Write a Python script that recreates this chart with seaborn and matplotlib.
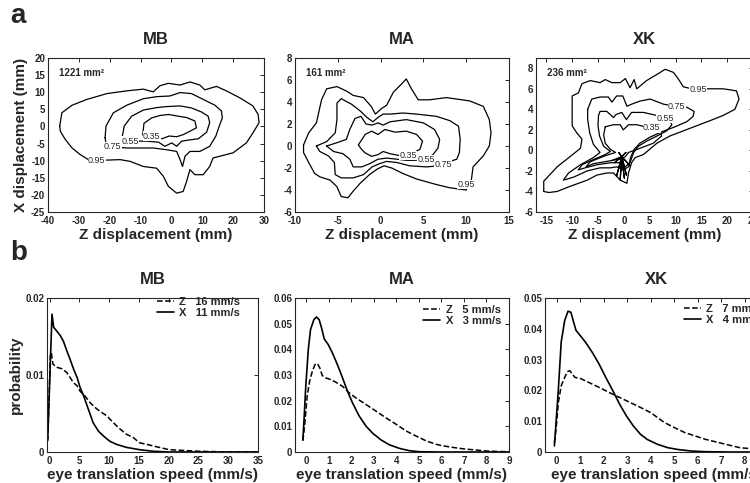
import numpy as np
import matplotlib
matplotlib.use("Agg")
import matplotlib.pyplot as plt
import seaborn as sns

# ---- panel a: iso-probability contours, (Z, X) displacement in mm ----
mb_095 = [(-36.2, 0.1), (-35.5, 4.0), (-32.2, 6.2), (-27.4, 7.9), (-20.9, 9.6), (-14.5, 10.4),
          (-9.1, 10.9), (-5.9, 10.1), (-3.7, 11.9), (-1.0, 12.6), (2.8, 12.1), (6.0, 13.0),
          (9.2, 12.1), (10.8, 10.7), (14.6, 11.7), (17.8, 10.4), (22.1, 8.4), (26.4, 6.0),
          (28.1, 3.5), (28.4, 1.1), (26.4, -1.9), (24.3, -4.8), (20.0, -7.7), (15.7, -8.7),
          (13.5, -9.2), (12.4, -11.7), (10.3, -14.1), (7.6, -14.1), (6.0, -12.6), (4.9, -16.1),
          (3.8, -19.0), (1.7, -19.5), (-1.0, -17.5), (-2.6, -14.6), (-4.8, -12.2), (-9.1, -11.7),
          (-13.4, -10.2), (-16.6, -9.7), (-23.1, -9.9), (-26.9, -9.7), (-29.6, -8.2),
          (-32.2, -6.3), (-34.4, -3.8), (-36.0, -1.4)]
mb_075 = [(-21.5, -3.3), (-21.2, 0.1), (-18.8, 4.0), (-14.5, 6.2), (-9.1, 8.1), (-4.8, 8.7),
          (-0.5, 8.9), (2.8, 9.9), (6.5, 9.6), (10.3, 7.9), (14.1, 6.2), (16.2, 4.5), (16.5, 2.5),
          (15.5, 0.1), (14.4, -2.8), (12.4, -5.8), (9.2, -7.3), (6.0, -7.3), (4.4, -8.7),
          (3.6, -11.7), (2.8, -9.7), (1.7, -7.3), (-1.6, -6.8), (-5.9, -6.3), (-10.2, -6.3),
          (-14.5, -6.3), (-18.8, -6.0), (-21.2, -5.0)]
mb_055 = [(-16.1, -3.8), (-15.3, 0.1), (-12.9, 3.0), (-9.1, 4.8), (-4.8, 5.5), (-1.6, 5.8),
          (2.8, 6.0), (6.5, 5.4), (9.8, 4.2), (11.9, 3.0), (12.4, 1.1), (11.4, -1.7), (8.7, -3.6),
          (5.4, -4.0), (3.3, -4.3), (1.7, -5.8), (0.1, -4.8), (-2.1, -5.8), (-4.2, -4.6),
          (-8.0, -4.3), (-12.3, -4.3), (-15.0, -4.3)]
mb_035 = [(-9.3, -2.4), (-8.9, 0.9), (-6.4, 2.5), (-3.7, 3.2), (-1.0, 3.5), (2.2, 3.0),
          (4.9, 2.6), (7.6, 1.6), (8.1, -0.4), (6.0, -1.4), (3.8, -2.4), (1.7, -3.0),
          (-0.7, -2.8), (-3.1, -3.6), (-5.9, -3.0), (-8.0, -2.8)]
mb_label_pos = [(-6.4, -2.8), (-13.4, -4.3), (-19.0, -5.8), (-24.2, -9.9)]

ma_095 = [(-9.0, 0.1), (-8.4, 1.2), (-7.5, 2.1), (-6.9, 4.2), (-6.3, 5.2), (-5.1, 5.4),
          (-4.0, 5.0), (-3.2, 4.6), (-2.0, 4.4), (-1.1, 3.6), (-0.6, 2.9), (0.1, 3.4), (0.7, 3.7),
          (1.5, 4.9), (2.4, 5.6), (3.0, 6.1), (3.6, 5.2), (4.4, 4.2), (5.7, 4.2), (7.7, 4.4),
          (10.4, 4.1), (12.0, 3.6), (12.7, 2.4), (12.9, 1.2), (12.7, 0.0), (12.0, -0.9),
          (10.8, -1.9), (10.6, -3.1), (10.0, -4.0), (8.1, -3.8), (6.5, -3.5), (4.2, -3.0),
          (2.6, -2.5), (1.3, -2.0), (0.4, -1.8), (-0.4, -2.1), (-1.3, -2.6), (-2.4, -3.4),
          (-3.2, -4.1), (-3.8, -4.7), (-4.6, -4.6), (-5.1, -3.7), (-5.9, -3.1), (-7.1, -2.8),
          (-7.7, -2.5), (-8.4, -1.5), (-9.0, -0.6)]
ma_075 = [(-7.5, 0.0), (-6.3, 0.4), (-5.3, 1.2), (-5.1, 2.4), (-5.1, 3.9), (-4.6, 4.3),
          (-3.4, 3.8), (-2.4, 3.2), (-1.6, 2.6), (-0.9, 2.2), (-0.3, 2.6), (0.3, 2.9), (1.1, 2.9),
          (2.6, 3.0), (4.2, 2.9), (6.5, 2.7), (8.1, 2.3), (9.1, 1.8), (9.3, 0.6), (9.2, -0.6),
          (8.9, -1.2), (7.7, -1.5), (6.7, -1.8), (5.4, -1.9), (3.4, -1.8), (1.9, -1.5),
          (0.7, -1.4), (-0.1, -1.6), (-1.0, -1.9), (-2.0, -2.6), (-3.2, -2.9), (-4.6, -2.9),
          (-5.3, -2.6), (-5.4, -1.5), (-6.1, -0.9), (-7.1, -0.5)]
ma_055 = [(-6.3, 0.0), (-5.1, 0.3), (-4.0, 0.6), (-3.6, 1.5), (-3.0, 2.5), (-2.3, 2.7),
          (-1.7, 2.0), (-1.0, 1.9), (-0.3, 2.1), (0.3, 1.9), (1.1, 2.2), (3.0, 2.4), (5.0, 2.1),
          (6.3, 1.5), (6.9, 0.6), (6.7, -0.2), (6.1, -0.8), (5.2, -1.2), (4.0, -1.3),
          (3.0, -1.3), (1.9, -1.2), (0.7, -1.1), (-0.3, -1.2), (-1.25, -1.6), (-2.2, -1.9),
          (-3.2, -1.9), (-3.6, -1.2), (-4.4, -0.7), (-5.5, -0.5)]
ma_035 = [(-2.6, 0.1), (-1.8, 1.05), (-1.05, 1.35), (-0.3, 1.05), (0.5, 1.5), (1.7, 1.26),
          (3.0, 1.35), (4.2, 1.05), (4.9, 0.44), (4.6, -0.3), (3.6, -0.7), (2.4, -0.9),
          (1.1, -0.7), (0.3, -0.5), (-0.3, -0.78), (-1.05, -0.94), (-1.8, -0.63), (-2.2, -0.33)]
ma_label_pos = [(3.2, -0.85), (5.3, -1.25), (7.3, -1.65), (10.0, -3.5)]

xk_095 = [(-15.5, -4.0), (-15.5, -3.0), (-12.9, -1.6), (-10.4, -0.6), (-8.4, 0.2), (-8.1, 1.1),
          (-9.1, 1.7), (-10.0, 2.4), (-10.0, 4.0), (-10.0, 5.3), (-8.8, 5.6), (-8.1, 6.5),
          (-6.5, 6.8), (-4.6, 6.6), (-3.6, 6.9), (-2.3, 6.6), (-0.7, 6.6), (0.3, 7.0), (1.2, 6.1),
          (2.0, 6.9), (2.5, 6.0), (4.4, 6.8), (6.4, 7.4), (8.0, 7.9), (9.6, 7.6), (10.5, 7.0),
          (11.5, 6.2), (13.1, 6.0), (16.0, 6.0), (19.2, 6.0), (21.8, 5.8), (22.3, 5.0),
          (21.5, 4.0), (19.2, 3.4), (16.7, 2.9), (14.1, 2.4), (11.5, 1.9), (8.9, 1.4), (6.4, 0.7),
          (3.8, -0.4), (2.2, -0.7), (1.5, -1.2), (0.9, -2.2), (0.6, -3.2), (-0.7, -2.9),
          (-2.0, -2.2), (-3.3, -2.2), (-5.2, -2.4), (-7.1, -2.9), (-10.4, -3.5), (-12.9, -4.0),
          (-14.5, -4.1)]
xk_075 = [(-7.0, 4.0), (-6.2, 5.0), (-4.6, 5.2), (-3.0, 5.2), (-2.3, 4.7), (-1.4, 5.3),
          (-0.2, 5.3), (0.6, 4.3), (1.5, 4.5), (3.1, 4.8), (5.1, 5.0), (7.7, 4.5), (9.9, 4.3),
          (12.2, 4.2), (13.6, 3.8), (13.4, 3.3), (12.2, 2.8), (9.9, 2.3), (7.3, 1.8), (5.1, 1.3),
          (3.1, 0.7), (2.0, 0.1), (1.3, -0.7), (0.9, -1.6), (-0.1, -1.9), (-1.4, -1.6),
          (-2.6, -1.7), (-4.6, -1.7), (-7.1, -2.0), (-9.7, -2.6), (-11.7, -2.9), (-10.7, -2.2),
          (-8.4, -1.4), (-5.9, -0.7), (-4.6, -0.2), (-5.9, 0.6), (-6.6, 1.7), (-7.0, 3.0)]
xk_055 = [(-4.9, 3.4), (-4.6, 3.8), (-3.3, 3.8), (-2.0, 3.2), (-1.5, 3.5), (-0.4, 3.7),
          (0.5, 3.0), (1.5, 3.7), (3.8, 3.7), (6.4, 3.4), (8.6, 3.2), (9.3, 2.5), (8.3, 1.9),
          (6.4, 1.4), (4.4, 0.9), (2.8, 0.4), (1.9, -0.2), (1.2, -1.2), (0.3, -1.6), (-0.7, -1.2),
          (-2.6, -1.2), (-5.2, -1.4), (-7.5, -1.7), (-8.8, -1.9), (-8.1, -1.4), (-5.9, -0.9),
          (-3.6, -0.4), (-2.6, -0.1), (-3.9, 0.4), (-4.7, 1.4), (-5.0, 2.4)]
xk_035 = [(-3.6, 2.3), (-2.0, 2.5), (-0.7, 2.5), (-0.1, 2.0), (0.9, 2.5), (2.5, 2.5),
          (4.1, 2.3), (7.0, 2.0), (7.3, 1.4), (5.7, 0.7), (3.1, 0.2), (0.9, -0.2), (0.3, -0.6),
          (-0.5, -0.8), (-2.5, -1.0), (-5.9, -1.3), (-7.3, -1.6), (-6.5, -1.1), (-3.5, -0.5),
          (-1.6, -0.2), (-2.6, 0.1), (-3.6, 0.7), (-3.9, 1.5)]
# spiky star around the origin in XK
xk_spikes = [(-0.4, -0.6), (-1.8, -1.2), (-0.4, -0.6), (-1.4, -2.5), (-0.4, -0.6),
             (-0.7, -2.8), (-0.4, -0.6), (0.1, -2.7), (-0.4, -0.6), (0.5, -2.4), (-0.4, -0.6),
             (1.2, -1.5), (-0.4, -0.6), (-1.0, -0.2), (-0.4, -0.6), (0.4, -0.2), (-0.4, -0.6),
             (-2.4, -1.0)]
xk_label_pos = [(5.4, 2.2), (8.0, 3.1), (10.2, 4.3), (14.4, 5.9)]

levels = ["0.35", "0.55", "0.75", "0.95"]
areas = ["1221 mm²", "161 mm²", "236 mm²"]
subjects = ["MB", "MA", "XK"]

# ---- panel b: speed distributions ----
mb_x_speed = [-0.33, 0.39, 0.67, 1.2, 1.8, 2.3, 2.9, 3.4, 4.0, 4.6, 5.1, 5.7, 6.2, 6.8, 7.3, 8.2,
              9.0, 10.1, 11.2, 12.9, 15.1, 17.3, 20.1, 25, 30, 35]
mb_x_prob = [0.0016, 0.0179, 0.0162, 0.0157, 0.0151, 0.0144, 0.0131, 0.0121, 0.0108, 0.0097,
             0.0084, 0.0073, 0.0062, 0.0049, 0.0038, 0.0027, 0.0021, 0.0014, 0.0010, 0.0006,
             0.0003, 0.0001, 0.0, 0.0, 0.0, 0.0]
mb_z_speed = [-0.33, 0.11, 0.28, 0.56, 1.2, 2.1, 2.9, 3.4, 4.0, 4.6, 5.1, 5.9, 6.8, 7.6, 8.4,
              9.6, 10.7, 11.8, 12.9, 14.0, 15.1, 16.8, 18.4, 20.1, 25, 30, 35]
mb_z_prob = [0.0014, 0.0125, 0.0129, 0.0114, 0.0110, 0.0108, 0.0103, 0.0097, 0.0090, 0.0086,
             0.0079, 0.0073, 0.0064, 0.0058, 0.0053, 0.0047, 0.0038, 0.0030, 0.0023, 0.0019,
             0.0012, 0.0009, 0.0006, 0.0003, 0.0001, 0.0, 0.0]

ma_x_speed = [-0.15, -0.09, -0.03, 0.09, 0.19, 0.34, 0.45, 0.57, 0.68, 0.80, 0.98, 1.16, 1.38,
              1.61, 1.83, 2.05, 2.35, 2.65, 2.95, 3.32, 3.69, 4.14, 4.58, 5.03, 6, 7, 8, 9]
ma_x_prob = [0.0049, 0.0140, 0.0244, 0.0399, 0.0477, 0.0516, 0.0526, 0.0516, 0.0483, 0.0440,
             0.0418, 0.0386, 0.0341, 0.0289, 0.0237, 0.0192, 0.0140, 0.0101, 0.0073, 0.0047,
             0.0028, 0.0014, 0.0005, 0.0001, 0.0, 0.0, 0.0, 0.0]
ma_z_speed = [-0.15, -0.06, 0.04, 0.15, 0.27, 0.39, 0.49, 0.60, 0.71, 0.86, 1.09, 1.31, 1.61,
              1.90, 2.20, 2.65, 3.10, 3.54, 3.99, 4.43, 4.88, 5.33, 5.77, 6.0, 6.5, 7.0, 7.5,
              8.0, 8.5, 9.0]
ma_z_prob = [0.0043, 0.0114, 0.0218, 0.0276, 0.0315, 0.0341, 0.0345, 0.0328, 0.0298, 0.0289,
             0.0282, 0.0272, 0.0256, 0.0231, 0.0211, 0.0185, 0.0159, 0.0133, 0.0108, 0.0082,
             0.0062, 0.0043, 0.0030, 0.0025, 0.0018, 0.0012, 0.0008, 0.0004, 0.0002, 0.0001]

xk_x_speed = [-0.10, -0.03, 0.07, 0.19, 0.34, 0.48, 0.60, 0.70, 0.82, 1.00, 1.22, 1.51, 1.80,
              2.09, 2.39, 2.68, 2.97, 3.26, 3.56, 3.85, 4.29, 4.73, 5.17, 5.75, 6.34, 7.36, 9]
xk_x_prob = [0.0020, 0.0096, 0.0204, 0.0357, 0.0427, 0.0457, 0.0454, 0.0427, 0.0395, 0.0378,
             0.0357, 0.0324, 0.0286, 0.0242, 0.0199, 0.0155, 0.0117, 0.0085, 0.0058, 0.0041,
             0.0025, 0.0014, 0.0008, 0.0003, 0.0001, 0.0, 0.0]
xk_z_speed = [-0.10, -0.03, 0.07, 0.19, 0.34, 0.45, 0.56, 0.66, 0.78, 1.00, 1.36, 1.80, 2.24,
              2.68, 3.12, 3.56, 4.00, 4.29, 4.58, 5.02, 5.46, 5.90, 6.34, 6.93, 7.36, 7.80,
              8.39, 9.0]
xk_z_prob = [0.0030, 0.0074, 0.0161, 0.0215, 0.0242, 0.0261, 0.0264, 0.0253, 0.0242, 0.0239,
             0.0226, 0.0210, 0.0193, 0.0177, 0.0161, 0.0145, 0.0128, 0.0112, 0.0096, 0.0079,
             0.0063, 0.0052, 0.0041, 0.0030, 0.0022, 0.0014, 0.0010, 0.0008]

z_means = ["16", "5", "7"]
x_means = ["11", "3", "4"]


def draw_loop(ax, pts, closed=True):
    arr = np.array(pts + pts[:1] if closed else pts)
    sns.lineplot(x=arr[:, 0], y=arr[:, 1], sort=False, estimator=None, color="black",
                 linewidth=0.9, ax=ax)


def style_axes(ax):
    ax.tick_params(direction="in", top=True, right=True, length=3, width=0.7,
                   labelsize=7, pad=2)
    ax.tick_params(axis="x", pad=3)
    for lab in ax.get_xticklabels() + ax.get_yticklabels():
        lab.set_fontweight("bold")
    for sp in ax.spines.values():
        sp.set_linewidth(0.8)
        sp.set_visible(True)


sns.set_style("white")
plt.rcParams["font.family"] = ["Liberation Sans", "DejaVu Sans"]
plt.rcParams["axes.unicode_minus"] = False

fig = plt.figure(figsize=(7.5, 4.83), dpi=100)
W, H = 750.0, 483.0


def add_ax(left, top, right, bottom):
    return fig.add_axes([left / W, 1 - bottom / H, (right - left) / W, (bottom - top) / H])


# ---------- row a ----------
top_axes = [add_ax(48, 58, 264, 212), add_ax(295, 58, 509, 212), add_ax(536, 58, 753, 212)]
contours = [[mb_035, mb_055, mb_075, mb_095], [ma_035, ma_055, ma_075, ma_095],
            [xk_035, xk_055, xk_075, xk_095]]
label_pos = [mb_label_pos, ma_label_pos, xk_label_pos]
xlims = [(-40, 30), (-10, 15), (-17, 25)]
ylims = [(-25, 20), (-6, 8), (-6, 9)]
xticks = [np.arange(-40, 31, 10), np.arange(-10, 16, 5), np.arange(-15, 26, 5)]
yticks = [np.arange(-25, 21, 5), np.arange(-6, 9, 2), np.arange(-6, 9, 2)]

for i, ax in enumerate(top_axes):
    for c in contours[i]:
        draw_loop(ax, c)
    if i == 2:
        draw_loop(ax, xk_spikes, closed=False)
    for lev, (lz, lx) in zip(levels, label_pos[i]):
        ax.text(lz, lx, lev, fontsize=6.5, ha="center", va="center",
                bbox=dict(facecolor="white", edgecolor="none", pad=0.2))
    ax.text(0.05, 0.905, areas[i], transform=ax.transAxes, fontsize=7, fontweight="bold",
            ha="left", va="center")
    ax.set_xlim(*xlims[i])
    ax.set_ylim(*ylims[i])
    ax.set_xticks(xticks[i])
    ax.set_yticks(yticks[i])
    ax.set_title(subjects[i], fontsize=12, fontweight="bold", pad=10)
    ax.set_xlabel("Z displacement (mm)", fontsize=11, fontweight="bold", labelpad=1)
    ax.set_ylabel("")
    style_axes(ax)
top_axes[0].set_ylabel("X displacement (mm)", fontsize=11, fontweight="bold", labelpad=2)

# ---------- row b ----------
bot_axes = [add_ax(47, 298, 258, 452), add_ax(295, 298, 509, 452), add_ax(545, 298, 768, 452)]
curves = [(mb_z_speed, mb_z_prob, mb_x_speed, mb_x_prob),
          (ma_z_speed, ma_z_prob, ma_x_speed, ma_x_prob),
          (xk_z_speed, xk_z_prob, xk_x_speed, xk_x_prob)]
bxlims = [(-0.45, 35), (-0.5, 9), (-0.5, 9)]
bylims = [0.02, 0.06, 0.05]
bxticks = [np.arange(0, 36, 5), np.arange(0, 10, 1), np.arange(0, 10, 1)]
leg_anchor = [(0.915, 1.005), (0.963, 0.955), (0.973, 0.96)]

for i, ax in enumerate(bot_axes):
    zs, zp, xs, xp = curves[i]
    sns.lineplot(x=zs, y=zp, sort=False, estimator=None, color="black", linewidth=1.1,
                 linestyle="--", ax=ax, label=f"Z   {z_means[i]} mm/s")
    sns.lineplot(x=xs, y=xp, sort=False, estimator=None, color="black", linewidth=1.2,
                 ax=ax, label=f"X   {x_means[i]} mm/s")
    ax.legend(loc="upper right", bbox_to_anchor=leg_anchor[i], frameon=False,
              prop={"size": 8, "weight": "bold"}, handlelength=1.5,
              handletextpad=0.5, labelspacing=0.1, borderpad=0, borderaxespad=0)
    ax.set_xlim(*bxlims[i])
    ax.set_ylim(0, bylims[i])
    ax.set_xticks(bxticks[i])
    yt = np.round(np.arange(0, bylims[i] + 1e-9, 0.01), 2)
    ax.set_yticks(yt)
    ax.set_yticklabels(["0"] + [f"{v:g}" for v in yt[1:]])
    ax.set_title(subjects[i], fontsize=12, fontweight="bold", pad=10)
    ax.set_xlabel("eye translation speed (mm/s)", fontsize=11, fontweight="bold", labelpad=1)
    ax.set_ylabel("")
    style_axes(ax)
bot_axes[0].set_ylabel("probability", fontsize=11, fontweight="bold", labelpad=2)

fig.text(10 / W, 1 - 16 / H, "a", fontsize=20, fontweight="bold", va="center", ha="left")
fig.text(10 / W, 1 - 253 / H, "b", fontsize=20, fontweight="bold", va="center", ha="left")

fig.savefig("out.png", dpi=100, facecolor="white")
